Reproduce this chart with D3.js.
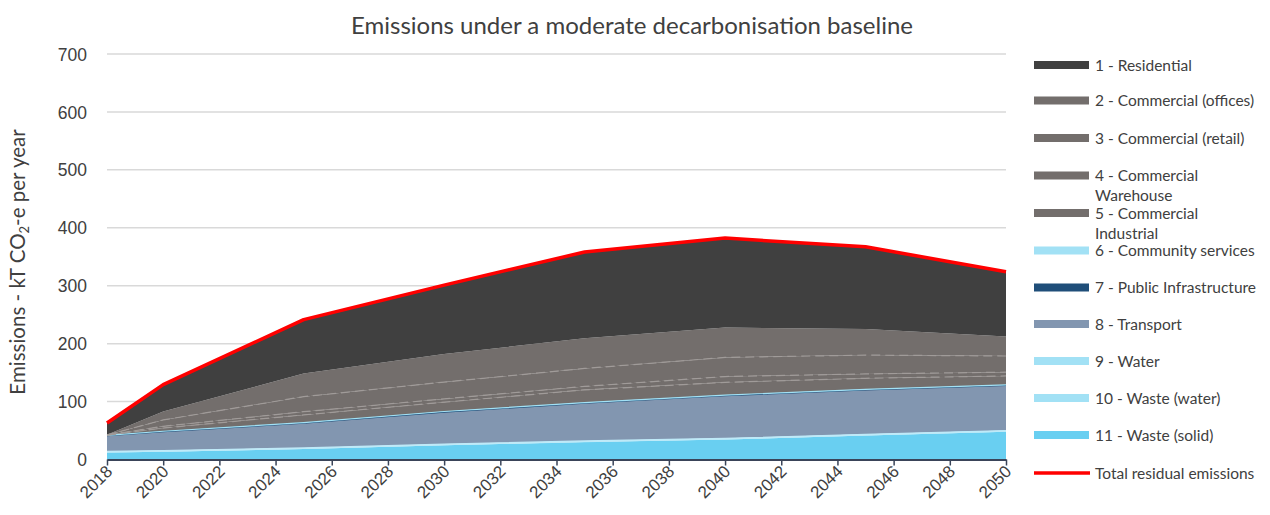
<!DOCTYPE html>
<html><head><meta charset="utf-8">
<script src="https://cdn.jsdelivr.net/npm/d3@7"></script>
<style>
body{margin:0;background:#fff;}
svg{display:block;font-family:Lato,"Open Sans",sans-serif;}
</style></head>
<body>
<svg id="chart" width="1270" height="515"></svg>
<script>
const years = [2018, 2020, 2025, 2030, 2035, 2040, 2045, 2050];
const seriesNames = ["1 - Residential","2 - Commercial (offices)","3 - Commercial (retail)","4 - Commercial Warehouse","5 - Commercial Industrial","6 - Community services","7 - Public Infrastructure","8 - Transport","9 - Water","10 - Waste (water)","11 - Waste (solid)"];
const residential = [20, 46.5, 93, 119, 149, 154.5, 142, 112];
const commOffices = [0.5, 14.5, 40, 48.5, 52, 51.5, 45, 33.5];
const commRetail = [0.3, 11, 26, 29, 31, 33, 32.4, 28];
const commWarehouse = [0.1, 3, 5.5, 5.7, 6, 10, 7.6, 6.5];
const commIndustrial = [0.3, 5.5, 13.5, 16, 22, 22, 19, 15.5];
const communityServices = [0.5, 0.6, 0.8, 1, 1, 1, 1, 1];
const publicInfra = [0.2, 0.2, 0.2, 0.2, 0.2, 0.2, 0.2, 0.2];
const transport = [27, 32.5, 42.5, 55, 65, 73.5, 76.5, 77.5];
const water = [1, 1, 1, 1.2, 1, 1, 1, 1];
const wasteWater = [1, 1, 1, 1, 1, 1, 1, 1];
const wasteSolid = [12, 13.5, 18, 24.5, 30, 34.5, 41.5, 48];
const yTicks = [0, 100, 200, 300, 400, 500, 600, 700];
const xTicks = d3.range(2018, 2051, 2);

const seriesValues = [residential, commOffices, commRetail, commWarehouse, commIndustrial, communityServices, publicInfra, transport, water, wasteWater, wasteSolid];
const colors = ["#404040","#736e6c","#736e6c","#736e6c","#736e6c","#a2e1f5","#1f4e79","#8296b0","#a2e1f5","#a2e1f5","#69cff1"];
const edgeColors = [null,null,"#a09b99","#a09b99","#a09b99","#a2e1f5","#1f4e79",null,"#bfeaf8","#bfeaf8",null];

const rows = years.map((y, i) => {
  const r = {year: y};
  seriesNames.forEach((n, k) => r[n] = seriesValues[k][i]);
  return r;
});
const stackKeys = seriesNames.slice().reverse();
const stacked = d3.stack().keys(stackKeys)(rows);
const totals = rows.map(r => ({year: r.year, total: d3.sum(seriesNames, n => r[n])}));

const svg = d3.select("#chart");
const x = d3.scaleLinear().domain([2018, 2050]).range([107, 1006]);
const y = d3.scaleLinear().domain([0, 700]).range([459.5, 54]);

svg.append("g").selectAll("line").data(yTicks.filter(d => d > 0)).join("line")
  .attr("x1", x(2018)).attr("x2", x(2050))
  .attr("y1", d => y(d)).attr("y2", d => y(d))
  .attr("stroke", "#d9d9d9").attr("stroke-width", 1.5);

const area = d3.area().x(d => x(d.data.year)).y0(d => y(d[0])).y1(d => y(d[1]));
svg.append("g").selectAll("path").data(stacked).join("path")
  .attr("d", area)
  .attr("fill", d => colors[seriesNames.indexOf(d.key)]);

const edge = d3.line().x(d => x(d.data.year)).y(d => y(d[1]));
svg.append("g").selectAll("path").data(stacked.filter(s => edgeColors[seriesNames.indexOf(s.key)])).join("path")
  .attr("d", edge)
  .attr("fill", "none")
  .attr("stroke", d => edgeColors[seriesNames.indexOf(d.key)])
  .attr("stroke-width", 1.2)
  .attr("stroke-dasharray", d => { const k = seriesNames.indexOf(d.key); return (k >= 1 && k <= 4) ? "9,5" : null; });

svg.append("path").datum(totals)
  .attr("d", d3.line().x(d => x(d.year)).y(d => y(d.total)))
  .attr("fill", "none").attr("stroke", "#ff0000").attr("stroke-width", 3.5)
  .attr("stroke-linejoin", "round");

const xAxis = svg.append("g").attr("transform", `translate(0,${y(0)})`)
  .call(d3.axisBottom(x).tickValues(xTicks).tickFormat(d3.format("d")).tickSize(6).tickSizeOuter(0));
xAxis.select(".domain").attr("stroke", "#3a4459").attr("stroke-width", 2);
xAxis.selectAll(".tick line").attr("stroke", "#3a4459").attr("stroke-width", 1.5);
xAxis.selectAll(".tick text")
  .attr("font-size", 17).attr("fill", "#404040")
  .attr("text-anchor", "end").attr("dy", null).attr("y", 0).attr("x", 0)
  .attr("transform", "translate(6,13) rotate(-45)");

const yAxis = svg.append("g").attr("transform", `translate(${x(2018) - 20},0)`)
  .call(d3.axisLeft(y).tickValues(yTicks).tickSize(0));
yAxis.select(".domain").remove();
yAxis.selectAll(".tick text").attr("font-size", 17.5).attr("fill", "#404040").attr("x", 0).attr("dy", "0.35em");

const yt = svg.append("text").attr("transform", `translate(25,262) rotate(-90)`)
  .attr("text-anchor", "middle").attr("font-size", 20.5).attr("fill", "#404040");
yt.append("tspan").text("Emissions - kT CO");
yt.append("tspan").attr("font-size", 13).attr("dy", 4).text("2");
yt.append("tspan").attr("dy", -4).text("-e per year");

svg.append("text").attr("x", 632).attr("y", 34).attr("text-anchor", "middle")
  .attr("font-size", 24).attr("fill", "#404040").text("Emissions under a moderate decarbonisation baseline");

const legendRows = [
  {name: "1 - Residential", k: 0, y: 65},
  {name: "2 - Commercial (offices)", k: 1, y: 100.5},
  {name: "3 - Commercial (retail)", k: 2, y: 138},
  {name: ["4 - Commercial", "Warehouse"], k: 3, y: 175.5},
  {name: ["5 - Commercial", "Industrial"], k: 4, y: 213},
  {name: "6 - Community services", k: 5, y: 250.5},
  {name: "7 - Public Infrastructure", k: 6, y: 287.5},
  {name: "8 - Transport", k: 7, y: 324},
  {name: "9 - Water", k: 8, y: 361},
  {name: "10 - Waste (water)", k: 9, y: 398},
  {name: "11 - Waste (solid)", k: 10, y: 435}
];
const lg = svg.append("g");
legendRows.forEach(r => {
  lg.append("rect").attr("x", 1034).attr("y", r.y - 4).attr("width", 55).attr("height", 8).attr("fill", colors[r.k]);
  const t = lg.append("text").attr("x", 1095).attr("y", r.y + 5.5).attr("font-size", 15.5).attr("fill", "#404040");
  if (Array.isArray(r.name)) {
    t.append("tspan").attr("x", 1095).text(r.name[0]);
    t.append("tspan").attr("x", 1095).attr("dy", 20).text(r.name[1]);
  } else t.text(r.name);
});
lg.append("line").attr("x1", 1034).attr("x2", 1090).attr("y1", 473).attr("y2", 473).attr("stroke", "#ff0000").attr("stroke-width", 3.5);
lg.append("text").attr("x", 1095).attr("y", 478.5).attr("font-size", 15.5).attr("fill", "#404040").text("Total residual emissions");
</script>
</body></html>
